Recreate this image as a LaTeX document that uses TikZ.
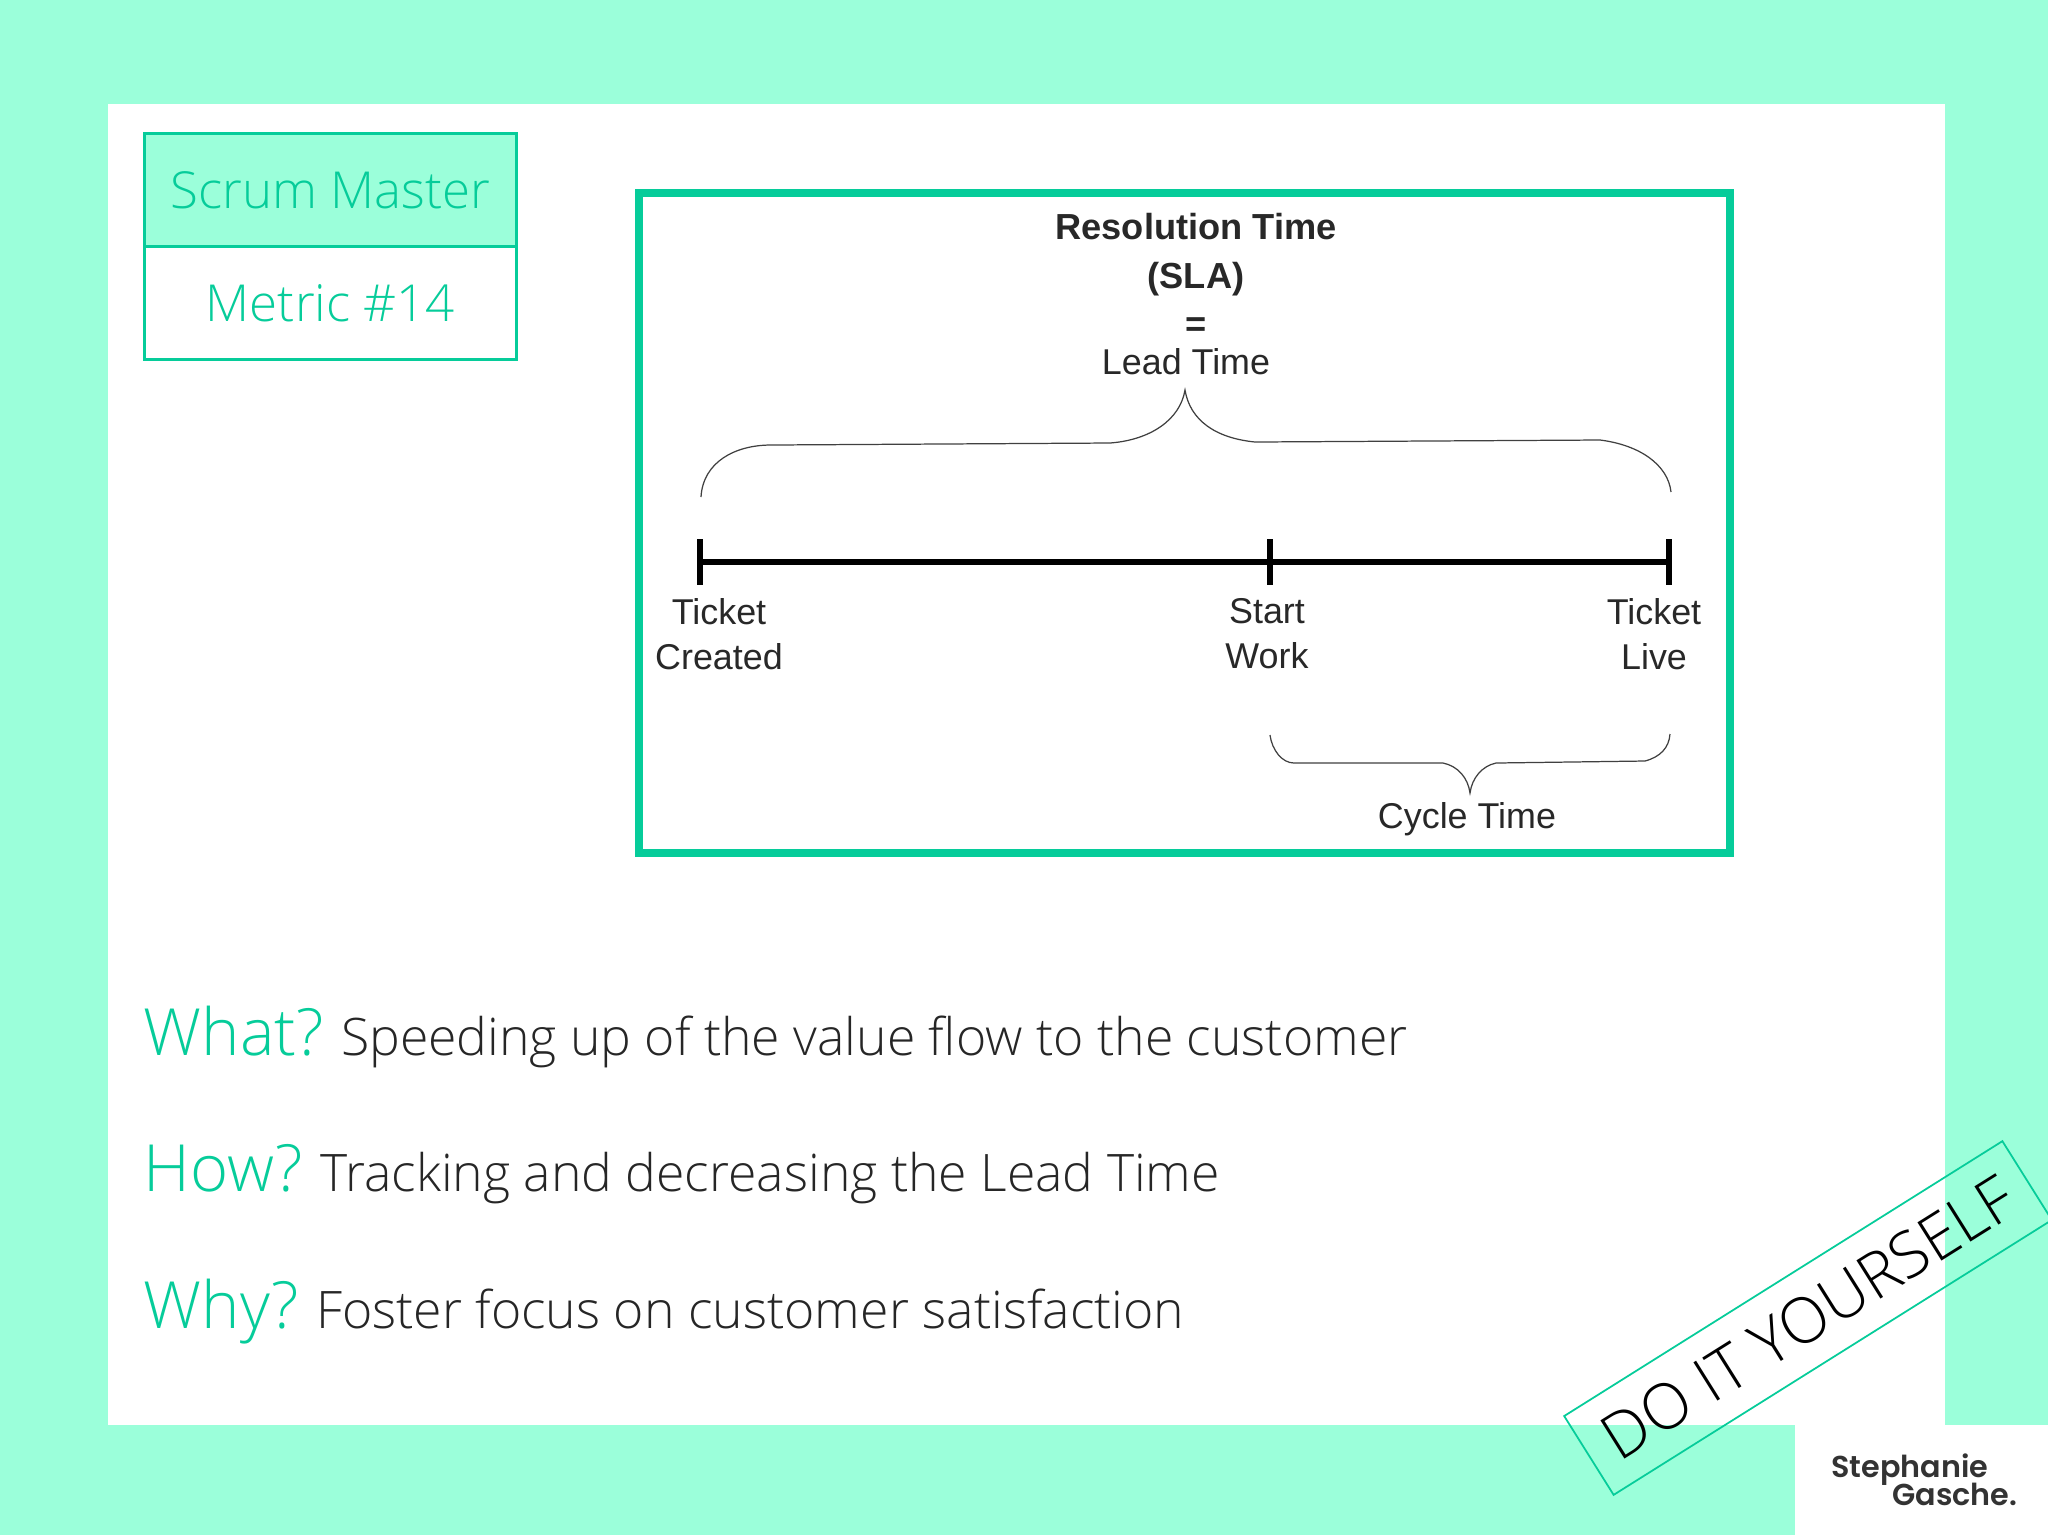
\documentclass[tikz,border=0pt]{standalone}
\usepackage{fontspec}
\setmainfont{Open Sans Light}
\newfontfamily\chartfont{Liberation Sans}
\newfontfamily\logofont{Poppins SemiBold}
\usetikzlibrary{positioning}
\definecolor{slidemint}{RGB}{155,255,218}
\definecolor{slidegreen}{RGB}{6,204,154}
\definecolor{charttext}{RGB}{40,40,40}
\tikzset{
  headbox/.style={draw=slidegreen,line width=1pt,minimum width=3.72cm,minimum height=1.13cm,inner sep=0pt,outer sep=0pt,
    text=slidegreen,font=\fontsize{14.5}{18}\selectfont},
  chartframe/.style={draw=slidegreen,line width=2.2pt},
  timeline/.style={line width=1.7pt,black},
  stroke/.style={fill=black,inner sep=0pt,minimum width=1.7pt,minimum height=0.46cm},
  brace/.style={draw=black!75,line width=0.35pt},
  chartlabel/.style={inner sep=0pt,text=charttext,align=center,
    font=\chartfont\fontsize{10.2}{12.8}\selectfont},
  charthead/.style={inner sep=0pt,text=charttext,align=center,
    font=\chartfont\bfseries\fontsize{10.3}{13.8}\selectfont},
  askword/.style={inner sep=0pt,anchor=base west,text=slidegreen,font=\fontsize{18.5}{22}\selectfont},
  answer/.style={inner sep=0pt,text=black!85,font=\fontsize{14.7}{17}\selectfont},
  stamp/.style={draw=slidegreen,line width=0.5pt,rotate=32.1,minimum width=5.17cm,minimum height=0.93cm,inner sep=0pt,
    font=\fontsize{18}{22}\selectfont},
  logoline/.style={inner sep=0pt,anchor=base east,text=black!80,font=\logofont\fontsize{8.6}{10}\selectfont}
}
\begin{document}
\begin{tikzpicture}[x=0.01cm,y=-0.01cm]
  \useasboundingbox (0,0) rectangle (2048,1535);
  \fill[slidemint] (0,0) rectangle (2048,1535);
  \fill[white] (108,104) rectangle (1945,1425);
  \fill[white] (1795,1425) rectangle (2048,1535);

  % title boxes
  \node[headbox,fill=slidemint] (scrum) at (330.5,190) {Scrum Master};
  \node[headbox,below=0pt of scrum] (metric) {Metric \#14};

  % chart
  \node[chartframe,minimum width=10.9cm,minimum height=6.6cm,inner sep=0pt] (chart) at (1184.5,523) {};
  \node[charthead] (resolution) at (1196,275) {Resolution Time\\(SLA)\\=};
  \node[chartlabel] (lead) at (1186,362) {Lead Time};

  \node[stroke] (created) at (700,562) {};
  \node[stroke] (start) at (1270,562) {};
  \node[stroke] (live) at (1669,562) {};
  \draw[timeline] (created.center) -- (start.center) -- (live.center);

  \node[chartlabel] (createdlabel) at (719,634) {Ticket\\Created};
  \node[chartlabel] (startlabel) at (1267,634) {Start\\Work};
  \node[chartlabel] (livelabel) at (1654,634) {Ticket\\Live};

  \coordinate (leadleft) at (701,497);
  \coordinate (leadtip) at (1185,390);
  \coordinate (leadright) at (1671,492);
  \draw[brace] (leadleft) .. controls (703,462) and (735,445) .. (771,445) -- (1110,443)
    .. controls (1150,440) and (1180,420) .. (leadtip)
    .. controls (1190,420) and (1215,438) .. (1255,442) -- (1600,440)
    .. controls (1640,445) and (1668,465) .. (leadright);

  \coordinate (cycleleft) at (1270,735);
  \coordinate (cycletip) at (1470,793);
  \coordinate (cycleright) at (1670,734);
  \draw[brace] (cycleleft) .. controls (1272,750) and (1282,763) .. (1294,763) -- (1443,763)
    .. controls (1458,766) and (1468,778) .. (cycletip)
    .. controls (1472,778) and (1482,766) .. (1496,763) -- (1645,761)
    .. controls (1660,757) and (1669,748) .. (cycleright);
  \node[chartlabel] (cycle) at (1467,819.5) {Cycle Time};

  % questions
  \node[askword] (what) at (143,1055) {What?};
  \node[answer,base right=16 of what] {Speeding up of the value flow to the customer};
  \node[askword] (how) at (143,1191) {How?};
  \node[answer,base right=16 of how] {Tracking and decreasing the Lead Time};
  \node[askword] (why) at (143,1328) {Why?};
  \node[answer,base right=16 of why] {Foster focus on customer satisfaction};

  \node[stamp] (diy) at (1808,1318) {DO IT YOURSELF};
  \node[logoline] (stephanie) at (1989,1477) {Stephanie};
  \node[logoline] (gasche) at (2018,1505) {Gasche.};
\end{tikzpicture}
\end{document}
